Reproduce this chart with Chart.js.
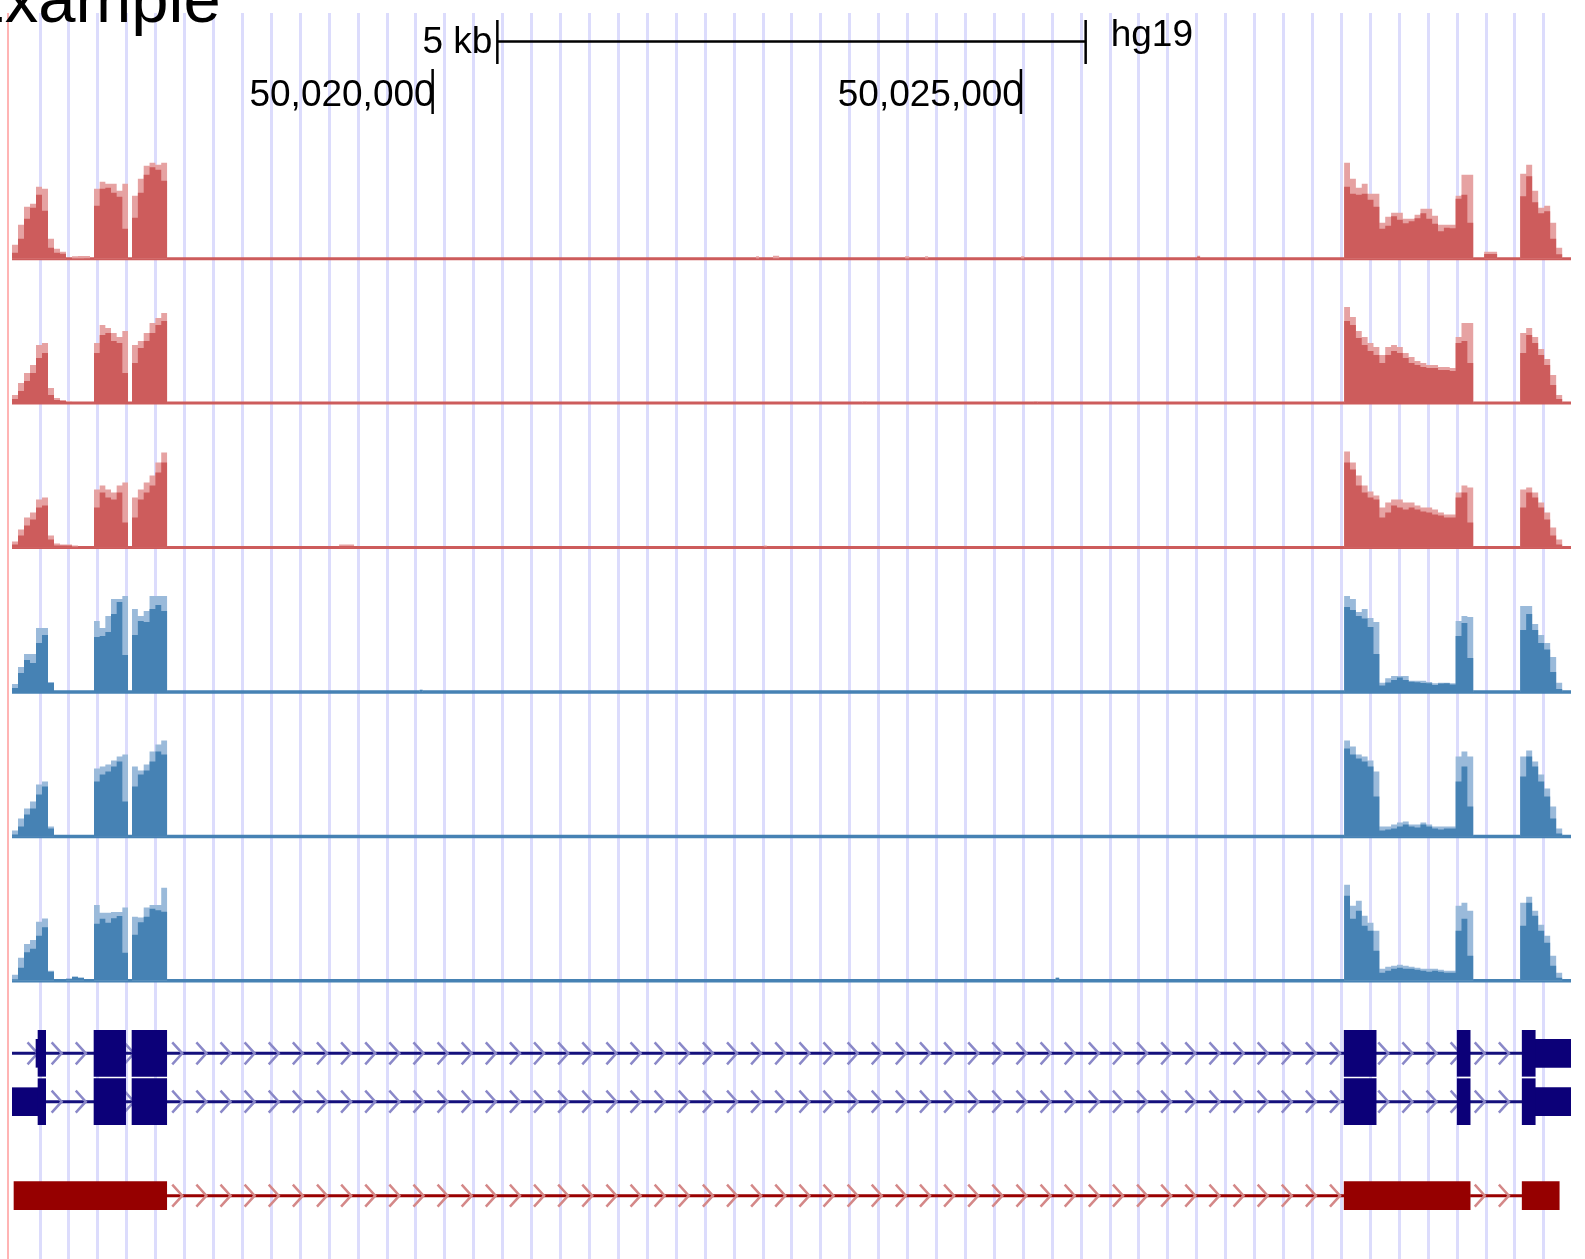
<!DOCTYPE html>
<html>
<head>
<meta charset="utf-8">
<title>Example</title>
<script src="https://cdn.jsdelivr.net/npm/chart.js@4.4.1/dist/chart.umd.min.js"></script>
<style>
  html, body { margin: 0; padding: 0; background: #ffffff; overflow: hidden; }
  #stage { position: relative; width: 1585px; height: 1259px; background: #ffffff; }
  #stage canvas { position: absolute; left: 0; }
</style>
</head>
<body>
<div id="stage"></div>
<script>
// ---------------- genomic window (hg19) ----------------
const viewStart = 50016425;
const viewEnd = 50029675;

const titleText = 'Example';
const assemblyLabel = 'hg19';
const scaleBarLabel = '5 kb';
const scaleBarBp = 5000;
const positionTicks = [50020000, 50025000];
const positionLabels = ['50,020,000', '50,025,000'];

// light guide lines across all tracks
const guideFirst = 50016663;
const guideStepBp = 245.8;
const guideCount = 53;

// ---------------- coverage ----------------
// windows that carry signal: [start, end, number of bins]
const coverageWindows = [
  [50016425, 50017088, 13],
  [50017122, 50017411, 6],
  [50017445, 50017743, 6],
  [50027747, 50028844, 22],
  [50029243, 50029600, 7]
];

// per track: mean value per bin and max value per bin, one list per window
const t1Mean = [
  [6, 20, 40, 51, 64, 48, 11, 6, 5, 0, 0, 0, 0.5],
  [53, 70, 71, 66, 62, 30],
  [41, 66, 84, 91.5, 89, 78],
  [72, 65, 64, 65, 59, 52, 30, 33, 42.5, 39, 35.5, 37.5, 40.5, 45.5, 40, 35, 27.5, 31, 30.5, 60, 64, 36],
  [62.5, 82.5, 56.5, 45.5, 47.5, 20, 4.5]
];
const t1Max = [
  [14, 34, 52, 55, 72, 70, 20, 10, 7, 0, 2.5, 2.7, 2.7],
  [70, 77, 75, 75, 68, 75],
  [63, 80, 93, 96, 94, 96],
  [96, 80, 71, 75, 65, 65, 36, 42, 46, 46, 40, 40, 44, 50, 50, 43, 34, 34, 34, 63, 84, 84],
  [85, 94, 68, 51, 53, 36, 11]
];
const t1Spots = [
  [50022749, 50022774, 0, 2.5], [50022893, 50022945, 0.5, 3], [50024015, 50024050, 0, 2.5],
  [50024185, 50024211, 0, 2.5], [50025001, 50025027, 0, 2.5], [50026497, 50026523, 2, 3],
  [50028937, 50029047, 4.7, 7]
];

const t2Mean = [
  [4, 12, 22, 30, 45, 50, 8, 3, 2, 1, 0, 0, 0],
  [50, 68, 70, 62, 60, 30],
  [40, 55, 62, 70, 78, 82],
  [82, 78, 65, 58, 52, 48, 40, 48, 52, 50, 45, 40, 38, 36, 35, 35, 33, 33, 32, 60, 62, 40],
  [50, 68, 60, 48, 38, 18, 4]
];
const t2Max = [
  [8, 20, 30, 38, 58, 60, 15, 5, 3, 2, 0, 0, 0],
  [60, 78, 75, 70, 66, 72],
  [58, 62, 70, 80, 85, 90],
  [96, 86, 72, 66, 60, 56, 48, 56, 58, 56, 50, 46, 42, 40, 38, 38, 36, 36, 35, 66, 80, 80],
  [70, 75, 66, 54, 44, 28, 8]
];
const t2Spots = [[50023655, 50023690, 1, 2], [50025110, 50025140, 1, 2]];

const t3Mean = [
  [3, 12, 22, 28, 40, 42, 8, 2, 2, 2, 1, 0, 0],
  [40, 55, 50, 48, 55, 25],
  [30, 48, 55, 62, 75, 85],
  [85, 78, 62, 55, 50, 48, 30, 35, 42, 40, 38, 40, 38, 36, 35, 33, 32, 30, 30, 50, 55, 25],
  [40, 55, 50, 40, 28, 12, 3]
];
const t3Max = [
  [6, 18, 30, 35, 48, 50, 12, 4, 3, 3, 2, 0, 0],
  [58, 62, 58, 55, 62, 65],
  [50, 58, 65, 72, 85, 95],
  [96, 85, 72, 62, 56, 52, 40, 45, 48, 48, 45, 45, 42, 40, 40, 38, 35, 33, 33, 55, 62, 60],
  [58, 60, 55, 45, 35, 20, 8]
];
const t3Spots = [[50019205, 50019332, 1.5, 3], [50022815, 50022840, 1, 2]];

const t4Mean = [
  [4, 19, 32, 29, 49, 57, 9, 0, 0, 0, 0, 0, 0],
  [55, 56, 60, 78, 90, 37],
  [57, 71, 70, 83, 87, 81],
  [85, 82, 76, 73.5, 65, 38, 6.5, 9.5, 12, 14.5, 12, 10.3, 9.7, 9, 8.7, 7, 8.5, 8.7, 7.5, 56, 69, 34],
  [62, 78, 62, 49, 42.5, 20, 3]
];
const t4Max = [
  [8, 25, 38, 38, 64, 64, 10, 0, 0, 0, 0, 0, 0],
  [71, 64, 76, 93, 93, 96],
  [83, 76, 81, 96, 96, 96],
  [96, 93, 80, 83, 74, 70, 9.3, 13.7, 16, 16, 16, 11.3, 11.3, 11.3, 10, 8.7, 9.3, 9.3, 8.7, 71, 76, 75],
  [86, 86, 68, 57, 49, 35, 9.3]
];
const t4Spots = [[50019890, 50019915, 2, 2.5]];

const t5Mean = [
  [2, 10, 22, 28, 42, 50, 8, 0, 0, 0, 0, 0, 0],
  [55, 62, 65, 70, 75, 35],
  [50, 62, 66, 75, 85, 82],
  [88, 82, 78, 75, 70, 40, 6, 7, 8, 10, 12, 10, 9, 12, 10, 8, 7, 8, 8, 55, 70, 30],
  [60, 80, 70, 55, 40, 18, 3]
];
const t5Max = [
  [6, 18, 28, 35, 52, 55, 10, 0, 0, 0, 0, 0, 0],
  [68, 70, 72, 76, 80, 82],
  [70, 66, 72, 85, 92, 96],
  [96, 90, 82, 80, 76, 65, 10, 10, 12, 14, 15, 12, 12, 14, 12, 10, 10, 10, 10, 80, 85, 80],
  [80, 86, 75, 62, 48, 30, 8]
];
const t5Spots = [];

const t6Mean = [
  [1.5, 13, 28.5, 32, 45, 53.5, 9, 0, 0, 2, 4, 3, 0],
  [57, 62, 58, 62.5, 64.7, 28],
  [46, 58.5, 64, 72, 70.5, 69],
  [85, 62, 70, 55, 50, 30, 8, 10, 12, 13, 12, 12, 11, 10, 9, 10, 9, 8, 8, 50, 62, 25],
  [55, 78, 65, 50, 38, 15, 3]
];
const t6Max = [
  [6, 23, 36.7, 40.7, 59, 62.3, 10, 0, 0, 2, 4, 3, 0],
  [75.7, 68, 68, 68.7, 68.7, 73.3],
  [64, 63.3, 73.3, 75.7, 75.7, 93],
  [96, 75, 80, 65, 58, 50, 12, 14, 15, 16, 15, 14, 13, 12, 12, 12, 11, 10, 10, 75, 78, 70],
  [78, 84, 70, 56, 45, 25, 8]
];
const t6Spots = [[50025295, 50025325, 3, 3]];

// ---------------- gene models ----------------
const geneRows = ['isoform-1', 'isoform-2'];
const geneSpans = [[viewStart, viewEnd], [viewStart, viewEnd]];
const geneCds = [
  [[50016646, 50016711], [50017122, 50017391], [50017445, 50017740], [50027747, 50028019], [50028708, 50028818], [50029260, 50029371]],
  [[50016646, 50016711], [50017122, 50017391], [50017445, 50017740], [50027747, 50028019], [50028708, 50028818], [50029260, 50029371]]
];
const geneUtr = [
  [[50016629, 50016646], [50029371, 50029675]],
  [[50016425, 50016646], [50029371, 50029675]]
];
const ncRows = ['noncoding'];
const ncExons = [[[50016442, 50017740], [50027747, 50028818], [50029260, 50029575]]];

const chevronAnchor = 50016642;
const chevronStepBp = 205;

// ---------------- layout & style ----------------
const W = 1585, H = 1259;
const plotLeft = 12, plotRight = 1571;
const gridTop = 13;
const trackBaselines = [258.7, 403.1, 547.5, 692, 836.4, 980.8];
const trackSpan = 100;
const redDark = '#cd5c5c', redLight = '#e6a2a2';
const blueDark = '#4682b4', blueLight = '#9abada';
const navy = '#0c0078';
const crimson = '#960000';
const font = '"Liberation Sans", Arial, Helvetica, sans-serif';

const stage = document.getElementById('stage');
function makeCanvas(top, height) {
  const c = document.createElement('canvas');
  c.width = W; c.height = height;
  c.style.top = top + 'px';
  c.style.width = W + 'px'; c.style.height = height + 'px';
  stage.appendChild(c);
  return c;
}
const quiet = { legend: { display: false }, tooltip: { enabled: false } };

// ---------------- background: guides + header ----------------
const guidePositions = Array.from({ length: guideCount }, (_, k) => guideFirst + k * guideStepBp);

const headerPlugin = {
  id: 'header',
  afterDraw(chart) {
    const { ctx } = chart;
    const x = chart.scales.x;
    ctx.save();
    // left edge marker
    ctx.fillStyle = '#ffb4b4';
    ctx.fillRect(7, gridTop, 2, H - gridTop);

    // title
    ctx.fillStyle = '#000';
    ctx.textBaseline = 'alphabetic';
    ctx.textAlign = 'left';
    ctx.font = '67px ' + font;
    ctx.fillText(titleText, -40, 22);

    // scale bar centred on the window
    const mid = (viewStart + viewEnd) / 2;
    const b0 = x.getPixelForValue(mid - scaleBarBp / 2);
    const b1 = x.getPixelForValue(mid + scaleBarBp / 2);
    ctx.strokeStyle = '#000';
    ctx.lineWidth = 2.5;
    ctx.beginPath();
    ctx.moveTo(b0, 41.5); ctx.lineTo(b1, 41.5);
    ctx.moveTo(b0, 20); ctx.lineTo(b0, 64);
    ctx.moveTo(b1, 20); ctx.lineTo(b1, 64);
    ctx.stroke();
    ctx.font = '37px ' + font;
    ctx.textAlign = 'right';
    ctx.fillText(scaleBarLabel, b0 - 5, 53);
    ctx.textAlign = 'left';
    ctx.fillText(assemblyLabel, b1 + 25, 46);

    // position ticks
    positionTicks.forEach((p, i) => {
      const px = x.getPixelForValue(p);
      ctx.beginPath();
      ctx.moveTo(px, 69); ctx.lineTo(px, 114);
      ctx.stroke();
      ctx.textAlign = 'right';
      ctx.fillText(positionLabels[i], px + 2, 106);
    });
    ctx.restore();
  }
};

new Chart(makeCanvas(0, H), {
  type: 'scatter',
  data: { datasets: [{ data: [] }] },
  options: {
    responsive: false, animation: false, events: [],
    layout: { padding: { left: plotLeft, right: W - plotRight, top: gridTop, bottom: 0 } },
    scales: {
      x: {
        type: 'linear', min: viewStart, max: viewEnd,
        afterBuildTicks: s => { s.ticks = guidePositions.map(v => ({ value: v })); },
        ticks: { display: false },
        grid: { color: '#dcdcfc', lineWidth: 3, drawTicks: false },
        border: { display: false }
      },
      y: { display: false, min: 0, max: 1 }
    },
    plugins: quiet
  },
  plugins: [headerPlugin]
});

// ---------------- coverage tracks ----------------
function segmentsFor(meanLists, maxLists, spots) {
  const segs = [];
  coverageWindows.forEach(([s, e, n], w) => {
    const step = (e - s) / n;
    for (let i = 0; i < n; i++) segs.push([s + i * step, s + (i + 1) * step, meanLists[w][i], maxLists[w][i]]);
  });
  spots.forEach(sp => segs.push(sp));
  segs.sort((a, b) => a[0] - b[0]);
  return segs;
}
function stepPoints(segs, idx) {
  const pts = [{ x: viewStart, y: 0 }];
  segs.forEach((s, i) => {
    if (s[0] > viewStart) pts.push({ x: s[0], y: s[idx] });
    else pts[0].y = s[idx];
    const next = segs[i + 1];
    if (!next || next[0] > s[1] + 0.5) pts.push({ x: s[1], y: 0 });
  });
  pts.push({ x: viewEnd, y: 0 });
  return pts;
}

const tracks = [
  [t1Mean, t1Max, t1Spots, redDark, redLight, 3],
  [t2Mean, t2Max, t2Spots, redDark, redLight, 3],
  [t3Mean, t3Max, t3Spots, redDark, redLight, 3],
  [t4Mean, t4Max, t4Spots, blueDark, blueLight, 3.5],
  [t5Mean, t5Max, t5Spots, blueDark, blueLight, 3.5],
  [t6Mean, t6Max, t6Spots, blueDark, blueLight, 3.5]
];

tracks.forEach(([mean, max, spots, dark, light, baseWidth], k) => {
  const base = trackBaselines[k];
  const top = Math.floor(base) - trackSpan - 4;
  const height = trackSpan + 10;
  const segs = segmentsFor(mean, max, spots);
  const area = { type: 'line', stepped: true, fill: 'origin', borderWidth: 0, borderColor: 'rgba(0,0,0,0)', pointRadius: 0 };
  new Chart(makeCanvas(top, height), {
    type: 'line',
    data: {
      datasets: [
        Object.assign({ data: stepPoints(segs, 2), backgroundColor: dark }, area),
        Object.assign({ data: stepPoints(segs, 3), backgroundColor: light }, area),
        { data: [{ x: viewStart, y: 0 }, { x: viewEnd, y: 0 }], borderColor: dark, borderWidth: baseWidth, pointRadius: 0, fill: false, clip: false }
      ]
    },
    options: {
      responsive: false, animation: false, events: [],
      layout: { padding: { left: plotLeft, right: W - plotRight, top: base - trackSpan - top, bottom: top + height - base } },
      scales: {
        x: { type: 'linear', min: viewStart, max: viewEnd, display: false },
        y: { min: 0, max: trackSpan, display: false }
      },
      plugins: quiet
    }
  });
});

// ---------------- gene model tracks ----------------
const intronPlugin = {
  id: 'introns',
  beforeDatasetsDraw(chart, args, opts) {
    const { ctx, chartArea } = chart;
    const x = chart.scales.x, y = chart.scales.y;
    ctx.save();
    ctx.beginPath();
    ctx.rect(chartArea.left, 0, chartArea.right - chartArea.left, chart.height);
    ctx.clip();
    opts.spans.forEach((spanList, row) => {
      const yc = y.getPixelForValue(row);
      spanList.forEach(([s, e]) => {
        const x0 = x.getPixelForValue(s), x1 = x.getPixelForValue(e);
        ctx.strokeStyle = opts.lineColor;
        ctx.lineWidth = 3;
        ctx.beginPath(); ctx.moveTo(x0, yc); ctx.lineTo(x1, yc); ctx.stroke();
        ctx.strokeStyle = opts.chevronColor;
        ctx.lineWidth = 2.5;
        const kStart = Math.ceil((s - chevronAnchor) / chevronStepBp);
        for (let k = kStart; chevronAnchor + k * chevronStepBp <= e; k++) {
          const tip = x.getPixelForValue(chevronAnchor + k * chevronStepBp);
          if (tip - 10 < x0 - 1) continue;
          ctx.beginPath();
          ctx.moveTo(tip - 10, yc - 11); ctx.lineTo(tip, yc); ctx.lineTo(tip - 10, yc + 11);
          ctx.stroke();
        }
      });
    });
    ctx.restore();
  }
};

function blocks(rows, list) {
  const out = [];
  list.forEach((exons, r) => exons.forEach(([s, e]) => out.push({ x: [s, e], y: rows[r] })));
  return out;
}

// coding transcripts (two rows)
{
  const rowBand = 48.4;
  const top = 1000, height = 150;
  const padTop = 1053.3 - rowBand / 2 - top;
  new Chart(makeCanvas(top, height), {
    type: 'bar',
    data: {
      labels: geneRows,
      datasets: [
        { data: blocks(geneRows, geneCds), backgroundColor: navy, barThickness: 46, grouped: false, borderWidth: 0 },
        { data: blocks(geneRows, geneUtr), backgroundColor: navy, barThickness: 28, grouped: false, borderWidth: 0 }
      ]
    },
    options: {
      indexAxis: 'y',
      responsive: false, animation: false, events: [],
      layout: { padding: { left: plotLeft, right: W - plotRight, top: padTop, bottom: height - padTop - rowBand * geneRows.length } },
      scales: {
        x: { type: 'linear', min: viewStart, max: viewEnd, display: false },
        y: { type: 'category', display: false }
      },
      plugins: Object.assign({
        introns: { spans: geneSpans.map(s => [s]), lineColor: '#14107c', chevronColor: '#8a88c8' }
      }, quiet)
    },
    plugins: [intronPlugin]
  });
}

// non-coding transcript
{
  const rowBand = 48;
  const top = 1150, height = 100;
  const padTop = 1195.7 - rowBand / 2 - top;
  const gaps = ncExons.map(ex => ex.slice(1).map((e, i) => [ex[i][1], e[0]]));
  new Chart(makeCanvas(top, height), {
    type: 'bar',
    data: {
      labels: ncRows,
      datasets: [
        { data: blocks(ncRows, ncExons), backgroundColor: crimson, barThickness: 28, grouped: false, borderWidth: 0 }
      ]
    },
    options: {
      indexAxis: 'y',
      responsive: false, animation: false, events: [],
      layout: { padding: { left: plotLeft, right: W - plotRight, top: padTop, bottom: height - padTop - rowBand } },
      scales: {
        x: { type: 'linear', min: viewStart, max: viewEnd, display: false },
        y: { type: 'category', display: false }
      },
      plugins: Object.assign({
        introns: { spans: gaps, lineColor: '#990000', chevronColor: '#d48888' }
      }, quiet)
    },
    plugins: [intronPlugin]
  });
}
</script>
</body>
</html>
